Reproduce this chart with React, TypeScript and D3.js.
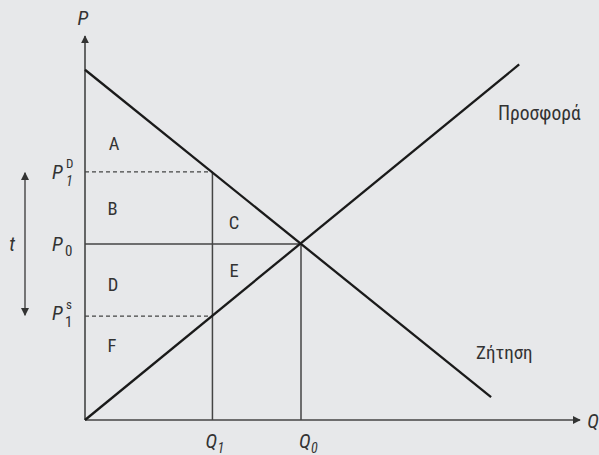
import React from "react";
import * as d3 from "d3";

// Data (abstract units)
const demand = [
  { q: 0, p: 19.9 },
  { q: 18.8, p: 1.3 },
];
const supply = [
  { q: 0, p: 0 },
  { q: 20.1, p: 20.2 },
];
const Q0 = 10;
const P0 = 10;
const Q1 = 5.9;
const P1D = 14.1;
const P1S = 5.9;
const areaLabels = [
  { name: "A", q: 1.35, p: 15.7 },
  { name: "B", q: 1.28, p: 12.0 },
  { name: "C", q: 6.9, p: 11.2 },
  { name: "D", q: 1.3, p: 7.7 },
  { name: "E", q: 6.9, p: 8.5 },
  { name: "F", q: 1.25, p: 4.25 },
];
const supplyLabel = "Προσφορά";
const demandLabel = "Ζήτηση";

const W = 599;
const H = 455;
const x = d3.scaleLinear().domain([0, 10]).range([85, 301]);
const y = d3.scaleLinear().domain([0, 10]).range([420, 244]);
const FONT = "'Liberation Sans Narrow', 'Roboto Condensed', 'Arial Narrow', Roboto, sans-serif";
const TXT = "#333";

export default function App() {
  const line = d3
    .line<{ q: number; p: number }>()
    .x((d) => x(d.q))
    .y((d) => y(d.p));
  const ox = x(0);
  const oy = y(0);
  return (
    <div style={{ position: "fixed", left: 0, top: 0 }}>
      <svg width={W} height={H} style={{ display: "block" }}>
        <defs>
          <marker id="arr" viewBox="0 0 10 10" refX="9" refY="5" markerWidth="8" markerHeight="8" markerUnits="userSpaceOnUse" orient="auto-start-reverse">
            <path d="M0,0 L10,5 L0,10 z" fill="#333" />
          </marker>
        </defs>
        <rect width={W} height={H} fill="#e7e8ea" />
        {/* axes */}
        <line x1={ox} y1={oy} x2={ox} y2={36} stroke="#444" strokeWidth={1.6} markerEnd="url(#arr)" />
        <line x1={ox} y1={oy} x2={580} y2={oy} stroke="#444" strokeWidth={1.6} markerEnd="url(#arr)" />
        {/* guide lines */}
        <line x1={ox} y1={y(P0)} x2={x(Q0)} y2={y(P0)} stroke="#444" strokeWidth={1.5} />
        <line x1={x(Q0)} y1={y(P0)} x2={x(Q0)} y2={oy} stroke="#444" strokeWidth={1.5} />
        <line x1={x(Q1)} y1={y(P1D)} x2={x(Q1)} y2={oy} stroke="#444" strokeWidth={1.5} />
        <line x1={ox} y1={y(P1D)} x2={x(Q1)} y2={y(P1D)} stroke="#444" strokeWidth={1.3} strokeDasharray="4,3" />
        <line x1={ox} y1={y(P1S)} x2={x(Q1)} y2={y(P1S)} stroke="#444" strokeWidth={1.3} strokeDasharray="4,3" />
        {/* curves */}
        <path d={line(demand) || ""} fill="none" stroke="#1a1a1a" strokeWidth={2.3} />
        <path d={line(supply) || ""} fill="none" stroke="#1a1a1a" strokeWidth={2.3} />
        {/* tax arrow */}
        <line x1={25} y1={y(P1D) + 1} x2={25} y2={y(P1S) - 1} stroke="#444" strokeWidth={1.4} markerStart="url(#arr)" markerEnd="url(#arr)" />
        <g fontFamily={FONT} fill={TXT}>
          <text x={12} y={251} fontSize={20} fontStyle="italic" textAnchor="middle">t</text>
          {areaLabels.map((d) => (
            <text key={d.name} x={x(d.q)} y={y(d.p) + 6.5} fontSize={18.5} textAnchor="middle">
              {d.name}
            </text>
          ))}
          <text x={83} y={25} fontSize={20} fontStyle="italic" textAnchor="middle">P</text>
          <text x={593} y={428} fontSize={20} fontStyle="italic" textAnchor="middle">Q</text>
          {/* price labels */}
          <text x={52} y={179} fontSize={20} fontStyle="italic">P</text>
          <text x={66} y={186} fontSize={14} fontStyle="italic">1</text>
          <text x={66} y={168} fontSize={13}>D</text>
          <text x={52} y={251} fontSize={20} fontStyle="italic">P</text>
          <text x={65} y={256} fontSize={15}>0</text>
          <text x={52} y={320} fontSize={20} fontStyle="italic">P</text>
          <text x={65} y={327} fontSize={15}>1</text>
          <text x={66} y={309} fontSize={13}>s</text>
          {/* quantity labels */}
          <text x={x(Q1) - 7} y={448} fontSize={20} fontStyle="italic">Q</text>
          <text x={x(Q1) + 5} y={453} fontSize={14} fontStyle="italic">1</text>
          <text x={x(Q0) - 2} y={448} fontSize={20} fontStyle="italic">Q</text>
          <text x={x(Q0) + 10} y={453} fontSize={14} fontStyle="italic">0</text>
          <text x={498} y={120} fontSize={19.5}>{supplyLabel}</text>
          <text x={476} y={359} fontSize={19}>{demandLabel}</text>
        </g>
      </svg>
    </div>
  );
}
